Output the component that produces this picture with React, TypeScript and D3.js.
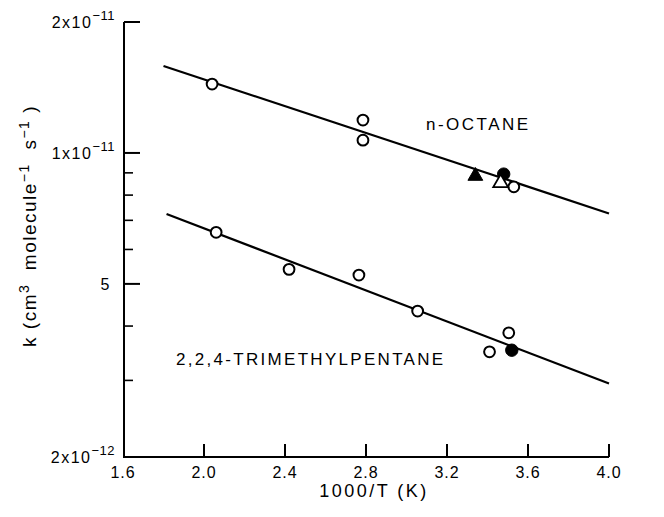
import React, { useEffect, useRef } from 'react'
import * as d3 from 'd3'

// axis ticks
const xTicks = [1.6, 2.0, 2.4, 2.8, 3.2, 3.6, 4.0]
const yMajor = [2e-12, 5e-12, 1e-11, 2e-11]
const yMinor = [3e-12, 4e-12, 6e-12, 7e-12, 8e-12, 9e-12]
const yLabelValues = [2e-11, 1e-11, 5e-12, 2e-12]
const yLabelBase = ['2x10', '1x10', '5', '2x10']
const yLabelExp = ['-11', '-11', '', '-12']

// n-octane
const octOpenX = [2.04, 2.785, 2.785, 3.53]
const octOpenK = [1.44e-11, 1.19e-11, 1.07e-11, 8.36e-12]
const octFilledTriX = [3.34]
const octFilledTriK = [8.85e-12]
const octOpenTriX = [3.465]
const octOpenTriK = [8.54e-12]
const octFilledX = [3.48]
const octFilledK = [8.94e-12]
const octFitX = [1.8, 4.0]
const octFitK = [1.585e-11, 7.26e-12]

// 2,2,4-trimethylpentane
const tmpOpenX = [2.06, 2.42, 2.765, 3.055, 3.41, 3.505]
const tmpOpenK = [6.57e-12, 5.4e-12, 5.24e-12, 4.33e-12, 3.49e-12, 3.86e-12]
const tmpFilledX = [3.52]
const tmpFilledK = [3.52e-12]
const tmpFitX = [1.815, 4.0]
const tmpFitK = [7.24e-12, 2.95e-12]

const FONT = '"Liberation Sans", Arial, sans-serif'

function zip(xs: number[], ks: number[]) {
  return xs.map((x, i) => [x, ks[i]] as [number, number])
}

export default function App() {
  const ref = useRef<SVGSVGElement>(null)

  useEffect(() => {
    const svg = d3.select(ref.current)
    svg.selectAll('*').remove()

    const x = d3.scaleLinear().domain([1.6, 4.0]).range([123, 609])
    const y = d3.scaleLog().domain([2e-12, 2e-11]).range([457, 22])
    const left = 124
    const bottom = 457

    // bottom axis, ticks pointing up
    const xg = svg.append('g').attr('transform', `translate(0,${bottom})`)
    xg.append('line').attr('x1', x(1.6)).attr('x2', x(4.0)).attr('stroke', '#000').attr('stroke-width', 2)
    xg.selectAll('line.tk').data(xTicks.slice(1)).join('line')
      .attr('class', 'tk')
      .attr('x1', d => x(d)).attr('x2', d => x(d))
      .attr('y1', 0).attr('y2', -13)
      .attr('stroke', '#000').attr('stroke-width', 2)
    xg.selectAll('text').data(xTicks).join('text')
      .attr('x', d => x(d)).attr('y', 21)
      .attr('text-anchor', 'middle')
      .style('font-family', FONT).style('font-size', '16px').style('letter-spacing', '1px')
      .text(d => d.toFixed(1))

    // left axis, ticks pointing right
    const yg = svg.append('g')
    yg.append('line').attr('x1', left).attr('x2', left).attr('y1', y(2e-11)).attr('y2', y(2e-12))
      .attr('stroke', '#000').attr('stroke-width', 2)
    yg.selectAll('line.maj').data(yMajor).join('line')
      .attr('class', 'maj')
      .attr('x1', left).attr('x2', left + 16)
      .attr('y1', d => y(d)).attr('y2', d => y(d))
      .attr('stroke', '#000').attr('stroke-width', 2)
    yg.selectAll('line.min').data(yMinor).join('line')
      .attr('class', 'min')
      .attr('x1', left).attr('x2', left + 9)
      .attr('y1', d => y(d)).attr('y2', d => y(d))
      .attr('stroke', '#000').attr('stroke-width', 1.6)

    const labs = yg.selectAll('text.yl').data(yLabelValues).join('text')
      .attr('class', 'yl')
      .attr('x', (d, i) => (yLabelExp[i] ? 115 : 111))
      .attr('y', d => y(d) + 6)
      .attr('text-anchor', 'end')
      .style('font-family', FONT).style('font-size', '16px')
    labs.append('tspan').style('letter-spacing', '1.5px').text((d, i) => yLabelBase[i])
    labs.append('tspan').attr('dy', -8).style('font-size', '13px').style('letter-spacing', '0.5px')
      .text((d, i) => yLabelExp[i].replace('-', '\u2212'))

    // axis titles
    svg.append('text')
      .attr('x', 374).attr('y', 497)
      .attr('text-anchor', 'middle')
      .style('font-family', FONT).style('font-size', '18px').style('letter-spacing', '2.5px')
      .text('1000/T (K)')

    const yt = svg.append('text')
      .attr('transform', 'translate(36,226) rotate(-90)')
      .attr('text-anchor', 'middle')
      .style('font-family', FONT).style('font-size', '19px').style('letter-spacing', '1.5px')
      .style('white-space', 'pre')
    yt.append('tspan').text('k (cm')
    yt.append('tspan').attr('dy', -7).style('font-size', '14px').text('3')
    yt.append('tspan').attr('dy', 7).text('  molecule')
    yt.append('tspan').attr('dy', -7).style('font-size', '14px').text('\u22121')
    yt.append('tspan').attr('dy', 7).text('  s')
    yt.append('tspan').attr('dy', -7).style('font-size', '14px').text('\u22121')
    yt.append('tspan').attr('dy', 7).text(' )')

    // fitted lines
    const line = d3.line<[number, number]>().x(d => x(d[0])).y(d => y(d[1]))
    ;[zip(octFitX, octFitK), zip(tmpFitX, tmpFitK)].forEach(pts => {
      svg.append('path').attr('d', line(pts)).attr('fill', 'none')
        .attr('stroke', '#000').attr('stroke-width', 2.2)
    })

    // markers
    const circles = (pts: [number, number][], filled: boolean) => {
      svg.append('g').selectAll('circle').data(pts).join('circle')
        .attr('cx', d => x(d[0])).attr('cy', d => y(d[1]))
        .attr('r', filled ? 6.2 : 5.4)
        .attr('fill', filled ? '#000' : '#fff')
        .attr('stroke', '#000').attr('stroke-width', filled ? 1 : 2)
    }
    const tri = d3.symbol().type(d3.symbolTriangle).size(95)
    const triangles = (pts: [number, number][], filled: boolean) => {
      svg.append('g').selectAll('path').data(pts).join('path')
        .attr('transform', d => `translate(${x(d[0])},${y(d[1])})`)
        .attr('d', tri() as string)
        .attr('fill', filled ? '#000' : '#fff')
        .attr('stroke', '#000').attr('stroke-width', filled ? 1 : 1.8)
    }
    circles(zip(octOpenX, octOpenK), false)
    triangles(zip(octFilledTriX, octFilledTriK), true)
    circles(zip(octFilledX, octFilledK), true)
    triangles(zip(octOpenTriX, octOpenTriK), false)
    circles(zip(tmpOpenX, tmpOpenK), false)
    circles(zip(tmpFilledX, tmpFilledK), true)

    // series labels
    svg.append('text').attr('x', 426).attr('y', 130)
      .style('font-family', FONT).style('font-size', '17px').style('letter-spacing', '2.5px')
      .text('n-OCTANE')
    svg.append('text').attr('x', 176).attr('y', 365)
      .style('font-family', FONT).style('font-size', '17px').style('letter-spacing', '2.3px')
      .text('2,2,4-TRIMETHYLPENTANE')
  }, [])

  return (
    <svg
      ref={ref}
      width={664}
      height={517}
      style={{ position: 'absolute', left: 0, top: 0, display: 'block', background: '#fff' }}
    />
  )
}
